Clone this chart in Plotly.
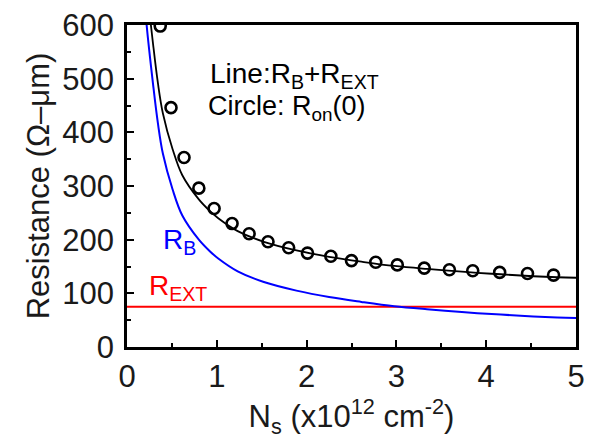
import plotly.graph_objects as go

# Sheet density Ns (x10^12 cm^-2) and measured on-resistance Ron(0) (ohm-um)
ns_meas = [0.37, 0.49, 0.635, 0.80, 0.97, 1.17, 1.36, 1.57, 1.80, 2.01,
           2.27, 2.50, 2.77, 3.01, 3.31, 3.59, 3.85, 4.15, 4.46, 4.75]
ron_meas = [598, 446, 353, 296, 258, 230, 211, 196, 185, 175,
            169, 161, 158, 153, 147, 144, 142, 139, 137, 134]

# Channel (barrier) resistance RB versus Ns
ns_rb = [0.20, 0.218, 0.29, 0.344, 0.40, 0.507, 0.616, 0.80, 0.925, 1.016,
         1.233, 1.524, 1.887, 2.25, 2.61, 2.975, 3.34, 4.06, 4.79, 5.0]
rb = [640, 601, 490, 417, 360, 294, 245, 200, 178, 165,
      141, 121, 105, 93, 84, 76, 70.5, 61.5, 55, 54]

# External (access) resistance, constant
r_ext = 75
ns_range = [0, 5]

rb_plus_ext = [v + r_ext for v in rb]

FONT = "Liberation Sans, Arial, sans-serif"

fig = go.Figure()

fig.add_trace(go.Scatter(
    x=ns_range, y=[r_ext, r_ext], mode="lines",
    line=dict(color="#ff0000", width=2), showlegend=False,
))
fig.add_trace(go.Scatter(
    x=ns_rb, y=rb, mode="lines", line_shape="spline",
    line=dict(color="#0000ff", width=2), showlegend=False,
))
fig.add_trace(go.Scatter(
    x=ns_rb, y=rb_plus_ext, mode="lines", line_shape="spline",
    line=dict(color="#000000", width=1.8), showlegend=False,
))
fig.add_trace(go.Scatter(
    x=ns_meas, y=ron_meas, mode="markers",
    marker=dict(symbol="circle-open", size=11, color="#000000",
                line=dict(color="#000000", width=2.6)),
    showlegend=False,
))

fig.add_annotation(x=0.905, y=505, xref="x", yref="y", xanchor="left", yanchor="middle",
                   text="Line:R<sub>B</sub>+R<sub>EXT</sub>", showarrow=False,
                   font=dict(family=FONT, size=28, color="#000000"))
fig.add_annotation(x=0.88, y=446, xref="x", yref="y", xanchor="left", yanchor="middle",
                   text="Circle: R<sub>on</sub>(0)", showarrow=False,
                   font=dict(family=FONT, size=27, color="#000000"))
fig.add_annotation(x=0.38, y=196, xref="x", yref="y", xanchor="left", yanchor="middle",
                   text="R<sub>B</sub>", showarrow=False,
                   font=dict(family=FONT, size=28, color="#0000ff"))
fig.add_annotation(x=0.22, y=110, xref="x", yref="y", xanchor="left", yanchor="middle",
                   text="R<sub>EXT</sub>", showarrow=False,
                   font=dict(family=FONT, size=28, color="#ff0000"))

axis_common = dict(
    showgrid=False, zeroline=False,
    showline=True, linecolor="#000000", linewidth=2.6, mirror=True,
    ticks="inside", ticklen=7, tickwidth=2.2, tickcolor="#000000",
    tickfont=dict(family=FONT, size=31, color="#1a1a1a"),
)

fig.update_xaxes(
    range=[0, 5], dtick=1, tick0=0,
    minor=dict(ticks="inside", ticklen=4, tickwidth=2, dtick=0.5, tickcolor="#000000"),
    title=dict(text="N<sub>s</sub> (x10<sup>12</sup> cm<sup>-2</sup>)",
               font=dict(family=FONT, size=31, color="#1a1a1a"), standoff=4),
    **axis_common,
)
fig.update_yaxes(
    range=[0, 600], dtick=100, tick0=0,
    minor=dict(ticks="inside", ticklen=4, tickwidth=2, dtick=50, tickcolor="#000000"),
    title=dict(text="Resistance (Ω–μm)",
               font=dict(family=FONT, size=31, color="#1a1a1a"), standoff=4),
    ticklabelstandoff=4,
    **axis_common,
)

fig.update_layout(
    width=593, height=443,
    margin=dict(l=127, r=8, t=21, b=96),
    paper_bgcolor="#ffffff", plot_bgcolor="#ffffff",
    font=dict(family=FONT),
)

fig.write_html("out.html")
